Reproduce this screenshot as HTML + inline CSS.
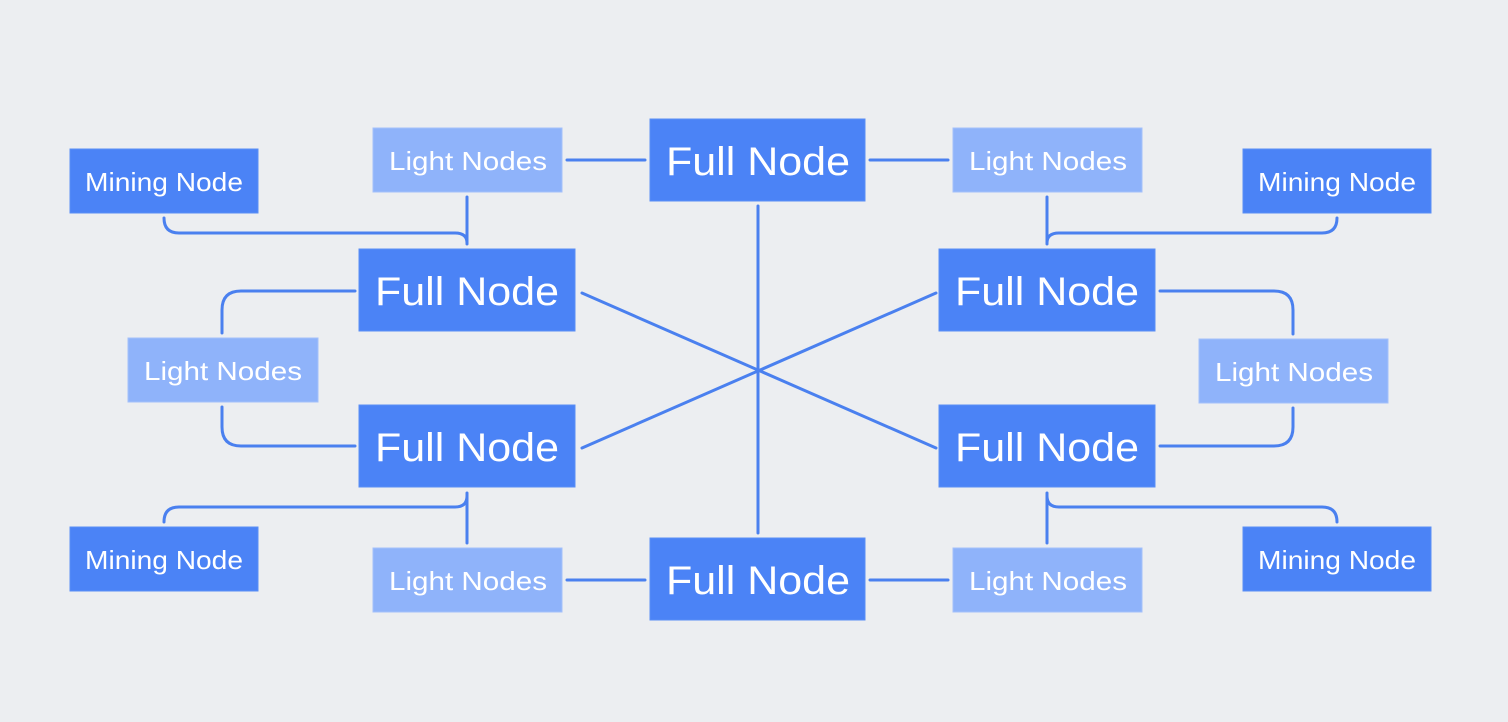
<!DOCTYPE html>
<html><head><meta charset="utf-8"><style>
html,body{margin:0;padding:0;background:#eceef1;}
svg{display:block;}
text{font-family:"Liberation Sans",sans-serif;fill:#fff;}
</style></head><body>
<svg width="1508" height="722" viewBox="0 0 1508 722" xmlns="http://www.w3.org/2000/svg">
<rect width="1508" height="722" fill="#eceef1"/>
<g fill="none" stroke="#4a80ef" stroke-width="3" stroke-linecap="round">
<line x1="567" y1="160" x2="645" y2="160"/>
<line x1="870" y1="160" x2="948" y2="160"/>
<line x1="567" y1="580" x2="645" y2="580"/>
<line x1="870" y1="580" x2="948" y2="580"/>
<line x1="758" y1="206" x2="758" y2="533"/>
<line x1="582" y1="293" x2="936" y2="448"/>
<line x1="582" y1="448" x2="936" y2="293"/>
<!-- top-left -->
<line x1="467" y1="197" x2="467" y2="244"/>
<path d="M164 218 Q164 233 179 233 L455 233 Q467 233 467 243"/>
<!-- top-right -->
<line x1="1047" y1="197" x2="1047" y2="244"/>
<path d="M1337 218 Q1337 233 1322 233 L1059 233 Q1047 233 1047 243"/>
<!-- bottom-left -->
<line x1="467" y1="493" x2="467" y2="543"/>
<path d="M164 522 Q164 507 179 507 L455 507 Q467 507 467 496"/>
<!-- bottom-right -->
<line x1="1047" y1="493" x2="1047" y2="543"/>
<path d="M1337 522 Q1337 507 1322 507 L1059 507 Q1047 507 1047 496"/>
<!-- side loops -->
<path d="M222 333 L222 310 Q222 291 241 291 L355 291"/>
<path d="M222 407 L222 427 Q222 446 241 446 L355 446"/>
<path d="M1293 334 L1293 310 Q1293 291 1274 291 L1160 291"/>
<path d="M1293 408 L1293 427 Q1293 446 1274 446 L1160 446"/>
</g>
<g fill="#4b83f6" stroke="#5a8ff5" stroke-width="1">
<rect x="650" y="119" width="215" height="82"/>
<rect x="650" y="538" width="215" height="82"/>
<rect x="359" y="249" width="216" height="82"/>
<rect x="359" y="405" width="216" height="82"/>
<rect x="939" y="249" width="216" height="82"/>
<rect x="939" y="405" width="216" height="82"/>
<rect x="70" y="149" width="188" height="64"/>
<rect x="1243" y="149" width="188" height="64"/>
<rect x="70" y="527" width="188" height="64"/>
<rect x="1243" y="527" width="188" height="64"/>
</g>
<g fill="#8fb3fa" stroke="#a3c0fa" stroke-width="1">
<rect x="373" y="128" width="189" height="64"/>
<rect x="953" y="128" width="189" height="64"/>
<rect x="373" y="548" width="189" height="64"/>
<rect x="953" y="548" width="189" height="64"/>
<rect x="128" y="338" width="190" height="64"/>
<rect x="1199" y="339" width="189" height="64"/>
</g>
<g font-size="40">
<text x="666" y="175" textLength="184" lengthAdjust="spacingAndGlyphs">Full Node</text>
<text x="666" y="594" textLength="184" lengthAdjust="spacingAndGlyphs">Full Node</text>
<text x="375" y="305" textLength="184" lengthAdjust="spacingAndGlyphs">Full Node</text>
<text x="375" y="461" textLength="184" lengthAdjust="spacingAndGlyphs">Full Node</text>
<text x="955" y="305" textLength="184" lengthAdjust="spacingAndGlyphs">Full Node</text>
<text x="955" y="461" textLength="184" lengthAdjust="spacingAndGlyphs">Full Node</text>
</g>
<g font-size="26">
<text x="85" y="191" textLength="158" lengthAdjust="spacingAndGlyphs">Mining Node</text>
<text x="1258" y="191" textLength="158" lengthAdjust="spacingAndGlyphs">Mining Node</text>
<text x="85" y="569" textLength="158" lengthAdjust="spacingAndGlyphs">Mining Node</text>
<text x="1258" y="569" textLength="158" lengthAdjust="spacingAndGlyphs">Mining Node</text>
<text x="389" y="170" textLength="158" lengthAdjust="spacingAndGlyphs">Light Nodes</text>
<text x="969" y="170" textLength="158" lengthAdjust="spacingAndGlyphs">Light Nodes</text>
<text x="389" y="590" textLength="158" lengthAdjust="spacingAndGlyphs">Light Nodes</text>
<text x="969" y="590" textLength="158" lengthAdjust="spacingAndGlyphs">Light Nodes</text>
<text x="144" y="380" textLength="158" lengthAdjust="spacingAndGlyphs">Light Nodes</text>
<text x="1215" y="381" textLength="158" lengthAdjust="spacingAndGlyphs">Light Nodes</text>
</g>
</svg>
</body></html>
